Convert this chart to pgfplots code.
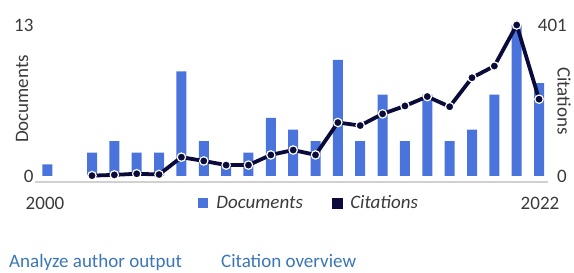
\documentclass[border=0pt]{standalone}
\usepackage{fontspec}
\setmainfont{Carlito}
\usepackage{pgfplots}
\pgfplotsset{compat=1.18}
\definecolor{barblue}{HTML}{4A74DB}
\definecolor{navy}{HTML}{0B0B3B}
\definecolor{linkblue}{HTML}{3A76B8}
\definecolor{txt}{HTML}{3A3A3A}
\definecolor{axgray}{HTML}{D0D0D0}
\begin{document}
\begin{tikzpicture}
\path[use as bounding box] (0pt,0pt) rectangle (574pt,273pt);
\begin{axis}[
  at={(35pt,91pt)}, anchor=south west, scale only axis,
  width=513pt, height=157pt,
  xmin=-0.55, xmax=22.4, ymin=-0.52, ymax=13,
  axis x line*=bottom, axis y line*=left,
  y axis line style={draw=none},
  x axis line style={draw=axgray, line width=2pt, -},
  xtick=\empty, ytick={0,13}, major tick length=0pt,
  /pgf/number format/assume math mode=true,
  yticklabel style={font=\fontsize{19}{22}\selectfont, text=txt, xshift=2pt},
  legend columns=2,
  legend style={at={(0.318,-0.134)}, anchor=west, draw=none, fill=none,
    inner sep=0pt, font=\fontsize{19}{22}\selectfont\itshape, text=txt,
    /tikz/every even column/.append style={column sep=27pt},
    /tikz/every odd column/.append style={column sep=6pt}},
]
\addplot[ybar, bar width=10pt, fill=barblue, draw=none,
  legend image code/.code={\fill[barblue] (0pt,-5pt) rectangle (10pt,5pt);}]
  coordinates {
  (0,1) (2,2) (3,3) (4,2) (5,2) (6,9) (7,3) (8,1) (9,2) (10,5) (11,4)
  (12,3) (13,10) (14,3) (15,7) (16,3) (17,7) (18,3) (19,4) (20,7) (21,13) (22,8)
  };
\addlegendentry{Documents}
\addlegendimage{legend image code/.code={\fill[navy] (0pt,-5pt) rectangle (10pt,5pt);}}
\addlegendentry{Citations}
\end{axis}
\begin{axis}[
  at={(35pt,91pt)}, anchor=south west, scale only axis,
  width=513pt, height=157pt,
  xmin=-0.55, xmax=22.4, ymin=-15.9, ymax=401,
  axis x line=none, axis y line*=right,
  y axis line style={draw=none},
  ytick={0,401}, major tick length=0pt,
  /pgf/number format/assume math mode=true,
  yticklabel style={font=\fontsize{19}{22}\selectfont, text=txt,
    anchor=east, inner sep=0pt, xshift=19pt},
  clip=false,
]
\addplot[navy, line width=3.8pt, mark=*, mark size=4.2pt,
  mark options={fill=navy, draw=white, line width=1.2pt}]
  coordinates {
  (2,1) (3,3) (4,6) (5,4) (6,50) (7,40) (8,29) (9,29) (10,56) (11,69)
  (12,56) (13,142) (14,134) (15,165) (16,186) (17,211) (18,184) (19,261)
  (20,292) (21,401) (22,204)
  };
\end{axis}
\begin{scope}[font=\fontsize{19}{22}\selectfont, text=txt]
\node[rotate=90] at (22pt,174pt) {Documents};
\node[rotate=-90] at (564pt,172pt) {Citations};
\node[anchor=base] at (45pt,63pt) {2000};
\node[anchor=base] at (540pt,63pt) {2022};
\node[anchor=base west, inner sep=0pt, text=linkblue] at (9pt,5pt) {Analyze author output};
\node[anchor=base west, inner sep=0pt, text=linkblue] at (221pt,5pt) {Citation overview};
\end{scope}
\end{tikzpicture}
\end{document}
